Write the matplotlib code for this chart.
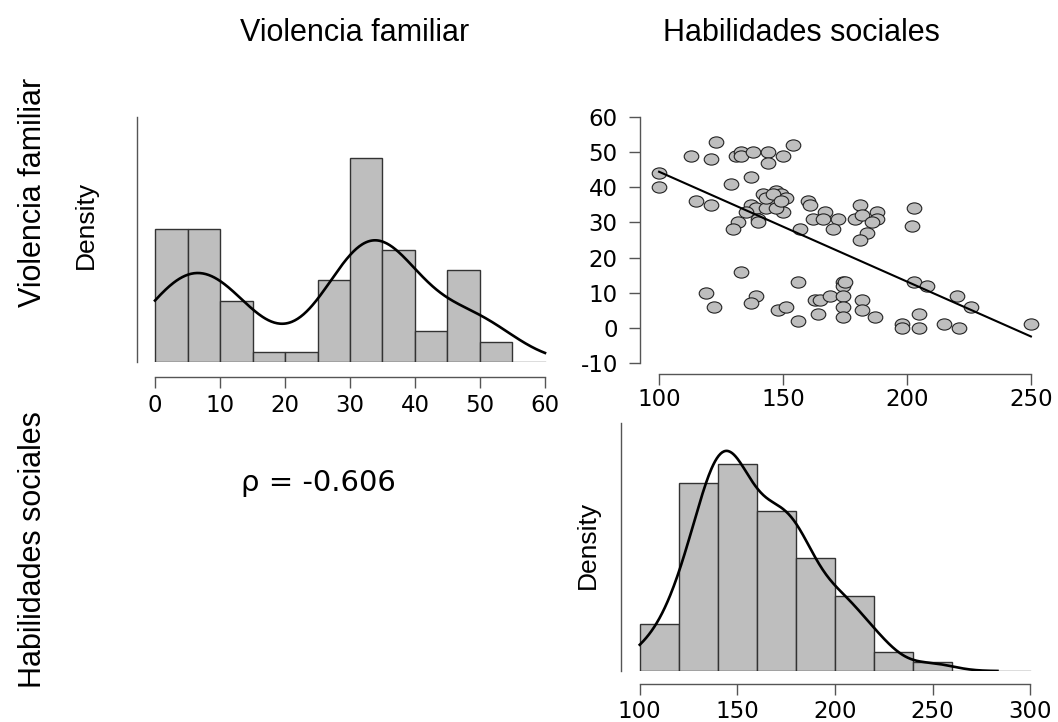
import numpy as np
import matplotlib
matplotlib.use("Agg")
import matplotlib.pyplot as plt
from matplotlib.path import Path
from matplotlib.transforms import Affine2D

# raw scores (one entry per participant)
hab_sociales = [100, 100, 113, 123, 121, 115, 121, 131, 133, 133,
                138, 144, 150, 154, 144, 137, 129, 142, 147, 149,
                151, 145, 146, 137, 139, 135, 150, 140, 140, 132,
                130, 160, 161, 167, 162, 166, 172, 157, 170, 179,
                181, 182, 188, 188, 186, 184, 181, 203, 202, 133,
                156, 174, 174, 203, 208, 119, 122, 139, 137, 148,
                151, 156, 163, 165, 169, 174, 164, 174, 174, 182,
                182, 187, 198, 198, 205, 205, 215, 221, 220, 226,
                250, 175, 143, 147, 143, 146, 149]
violencia = [44, 40, 49, 53, 48, 36, 35, 49, 50, 49,
             50, 50, 49, 52, 47, 43, 41, 38, 39, 38,
             37, 36, 35, 35, 34, 33, 33, 31, 30, 30,
             28, 36, 35, 33, 31, 31, 31, 28, 28, 31,
             35, 32, 33, 31, 30, 27, 25, 34, 29, 16,
             13, 13, 12, 13, 12, 10, 6, 9, 7, 5,
             6, 2, 8, 8, 9, 9, 4, 6, 3, 8,
             5, 3, 1, 0, 4, 0, 1, 0, 9, 6,
             1, 13, 34, 34, 37, 38, 36]

rho_text = "\u03c1 = -0.606"
viol_edges = np.arange(0, 56, 5)
hab_edges = np.arange(100, 261, 20)
viol_ticks = [0, 10, 20, 30, 40, 50, 60]
hab_ticks_scatter = [100, 150, 200, 250]
hab_ticks_hist = [100, 150, 200, 250, 300]
viol_ticks_scatter = [-10, 0, 10, 20, 30, 40, 50, 60]

plt.rcParams['font.family'] = ['DejaVu Sans']
plt.rcParams['axes.unicode_minus'] = False

W, H = 1058, 722
fig = plt.figure(figsize=(W / 100, H / 100), dpi=100)
fig.patch.set_facecolor('white')

AX_COL = '#555555'
BAR_COL = '#BEBEBE'
TICK_FS = 16.5


def px_axes(left, right, top, bottom):
    return fig.add_axes([left / W, 1 - bottom / H, (right - left) / W, (bottom - top) / H])


def r_hist(values, edges):
    # R style right-closed bins, first bin closed on both sides
    v = np.asarray(values, float)
    idx = np.searchsorted(edges, v, side='left') - 1
    idx = np.clip(idx, 0, len(edges) - 2)
    counts = np.bincount(idx, minlength=len(edges) - 1)
    return counts / (len(v) * np.diff(edges))


def kde_curve(values, lo, hi):
    v = np.asarray(values, float)
    q75, q25 = np.percentile(v, [75, 25])
    bw = 0.9 * min(v.std(ddof=1), (q75 - q25) / 1.34) * len(v) ** -0.2
    a = max(lo, v.min() - 3 * bw)
    b = min(hi, v.max() + 3 * bw)
    grid = np.linspace(a, b, 400)
    d = (grid[:, None] - v[None, :]) / bw
    dens = np.exp(-0.5 * d ** 2).sum(1) / (len(v) * bw * np.sqrt(2 * np.pi))
    return grid, dens


def style_axis(ax, outward):
    for s in ['top', 'right']:
        ax.spines[s].set_visible(False)
    for s in ['left', 'bottom']:
        ax.spines[s].set_color(AX_COL)
        ax.spines[s].set_linewidth(1.0)
    ax.spines['bottom'].set_position(('outward', outward))
    ax.tick_params(colors=AX_COL, labelcolor='black', length=8, width=1.0,
                   labelsize=TICK_FS)


def density_panel(ax, values, edges, lo, hi, ticks, pad_units, outward):
    dens = r_hist(values, edges)
    ax.bar(edges[:-1], dens, width=np.diff(edges), align='edge',
           color=BAR_COL, edgecolor='#333333', linewidth=1.0, zorder=2)
    ax.plot([lo, hi], [0, 0], color=AX_COL, lw=1.0, zorder=1)
    gx, gy = kde_curve(values, lo, hi)
    ax.plot(gx, gy, color='black', lw=1.9, zorder=3)
    ax.set_xlim(lo - pad_units, hi + pad_units)
    ax.set_ylim(0, 1.2 * dens.max())
    style_axis(ax, outward)
    ax.spines['bottom'].set_bounds(lo, hi)
    ax.set_xticks(ticks)
    ax.set_yticks([])
    ax.tick_params(axis='x', pad=4)


# top-left: histogram of Violencia familiar
ax1 = px_axes(137, 563, 117, 362)
density_panel(ax1, violencia, viol_edges, 0, 60, viol_ticks, 2.77, 10.8)

# bottom-right: histogram of Habilidades sociales
ax3 = px_axes(621, 1049, 423, 671)
density_panel(ax3, hab_sociales, hab_edges, 100, 300, hab_ticks_hist, 9.6, 9.0)

# top-right: scatter with regression line
ax2 = px_axes(640, 1050, 106, 374)
ell = Path.unit_circle().transformed(Affine2D().scale(1.3, 1.0))
ax2.plot(hab_sociales, violencia, ls='none', marker=ell, ms=10.5,
         mfc=BAR_COL, mec='#222222', mew=0.8, zorder=2)
coef = np.polyfit(hab_sociales, violencia, 1)
xs = np.array([min(hab_sociales), max(hab_sociales)])
ax2.plot(xs, np.polyval(coef, xs), color='black', lw=1.5, zorder=3)
ax2.set_xlim(92.3, 257.7)
ax2.set_ylim(-13.1, 63.1)
style_axis(ax2, 0)
ax2.spines['left'].set_bounds(-10, 60)
ax2.spines['bottom'].set_bounds(100, 250)
ax2.set_xticks(hab_ticks_scatter)
ax2.set_yticks(viol_ticks_scatter)
ax2.tick_params(axis='x', pad=2)
ax2.tick_params(axis='y', pad=8)

# labels
title_kw = dict(family=['Liberation Sans', 'DejaVu Sans'], fontsize=22,
                ha='center', va='center')
fig.text(355 / W, 1 - 33 / H, 'Violencia familiar', **title_kw)
fig.text(801 / W, 1 - 33 / H, 'Habilidades sociales', **title_kw)
fig.text(33 / W, 1 - 192 / H, 'Violencia familiar', rotation=90, **title_kw)
fig.text(33 / W, 1 - 550 / H, 'Habilidades sociales', rotation=90, **title_kw)

dens_kw = dict(family=['Liberation Sans', 'DejaVu Sans'],
               fontsize=19, rotation=90, ha='center', va='center')
fig.text(86 / W, 1 - 225 / H, 'Density', **dens_kw)
fig.text(588 / W, 1 - 545 / H, 'Density', **dens_kw)

fig.text(318 / W, 1 - 483 / H, rho_text, fontsize=21, ha='center', va='center')

fig.savefig('out.png', dpi=100)
